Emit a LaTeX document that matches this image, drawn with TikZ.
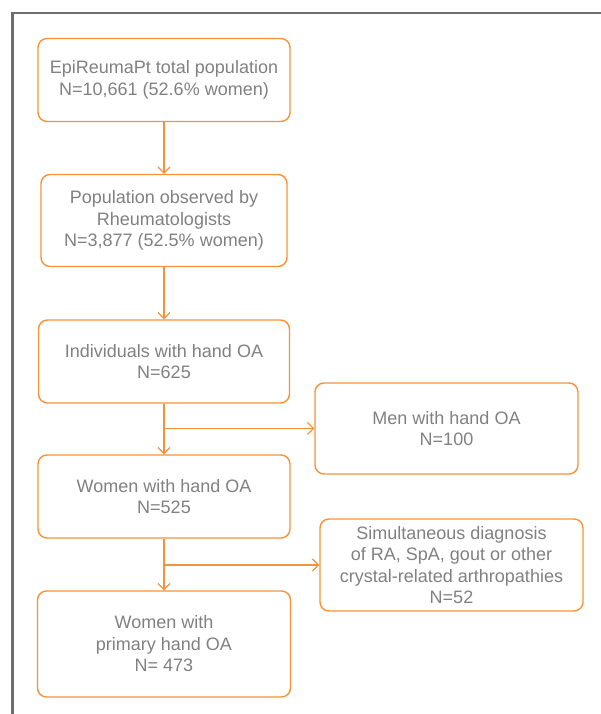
\documentclass[tikz,border=0pt]{standalone}
\usepackage{fontspec}
\setmainfont{Liberation Sans}
\usetikzlibrary{arrows.meta}
\definecolor{boxorange}{HTML}{F5923A}
\definecolor{txtgray}{HTML}{818181}
\definecolor{framegray}{HTML}{6E6E6E}
\tikzset{
  flowbox/.style={draw=boxorange, line width=1.4pt, rounded corners=9pt, fill=white,
    inner sep=0pt, align=center, text=txtgray, font=\fontsize{18}{21.5}\selectfont},
  flowline/.style={draw=boxorange, line width=1.4pt},
  flowarrow/.style={flowline, -{Straight Barb[length=6pt,width=12pt,line width=1.2pt]}}
}
\begin{document}
\begin{tikzpicture}[x=1pt,y=-1pt]
\useasboundingbox (0,0) rectangle (601,714);
\draw[framegray, line width=2.6pt] (12.5,716) -- (12.5,13) -- (603,13);

\node[flowbox, minimum width=252pt, minimum height=83pt] (b1) at (164,80)
  {EpiReumaPt total population\\N=10,661 (52.6\% women)};
\node[flowbox, minimum width=246pt, minimum height=92pt] (b2) at (164,220.5)
  {Population observed by\\Rheumatologists\\N=3,877 (52.5\% women)};
\node[flowbox, minimum width=251pt, minimum height=83pt] (b3) at (164,361.5)
  {Individuals with hand OA\\N=625};
\node[flowbox, minimum width=263pt, minimum height=91pt] (b4) at (446.5,428.5)
  {Men with hand OA\\N=100};
\node[flowbox, minimum width=252pt, minimum height=83pt] (b5) at (164,496.5)
  {Women with hand OA\\N=525};
\node[flowbox, minimum width=263pt, minimum height=92pt] (b6) at (451.5,565)
  {Simultaneous diagnosis\\of RA, SpA, gout or other\\crystal-related arthropathies\\N=52};
\node[flowbox, minimum width=253pt, minimum height=106pt] (b7) at (164,644)
  {Women with\\primary hand OA\\N= 473};

\coordinate (j1) at (b3.south |- b4.west);
\coordinate (j2) at (b5.south |- b6.west);

\draw[flowarrow] (b1.south) -- (b2.north);
\draw[flowarrow] (b2.south) -- (b3.north);
\draw[flowarrow] (b3.south) -- (b5.north);
\draw[flowarrow] (j1) -- (b4.west);
\draw[flowarrow] (b5.south) -- (b7.north);
\draw[flowarrow] (j2) -- (b6.west);
\end{tikzpicture}
\end{document}
